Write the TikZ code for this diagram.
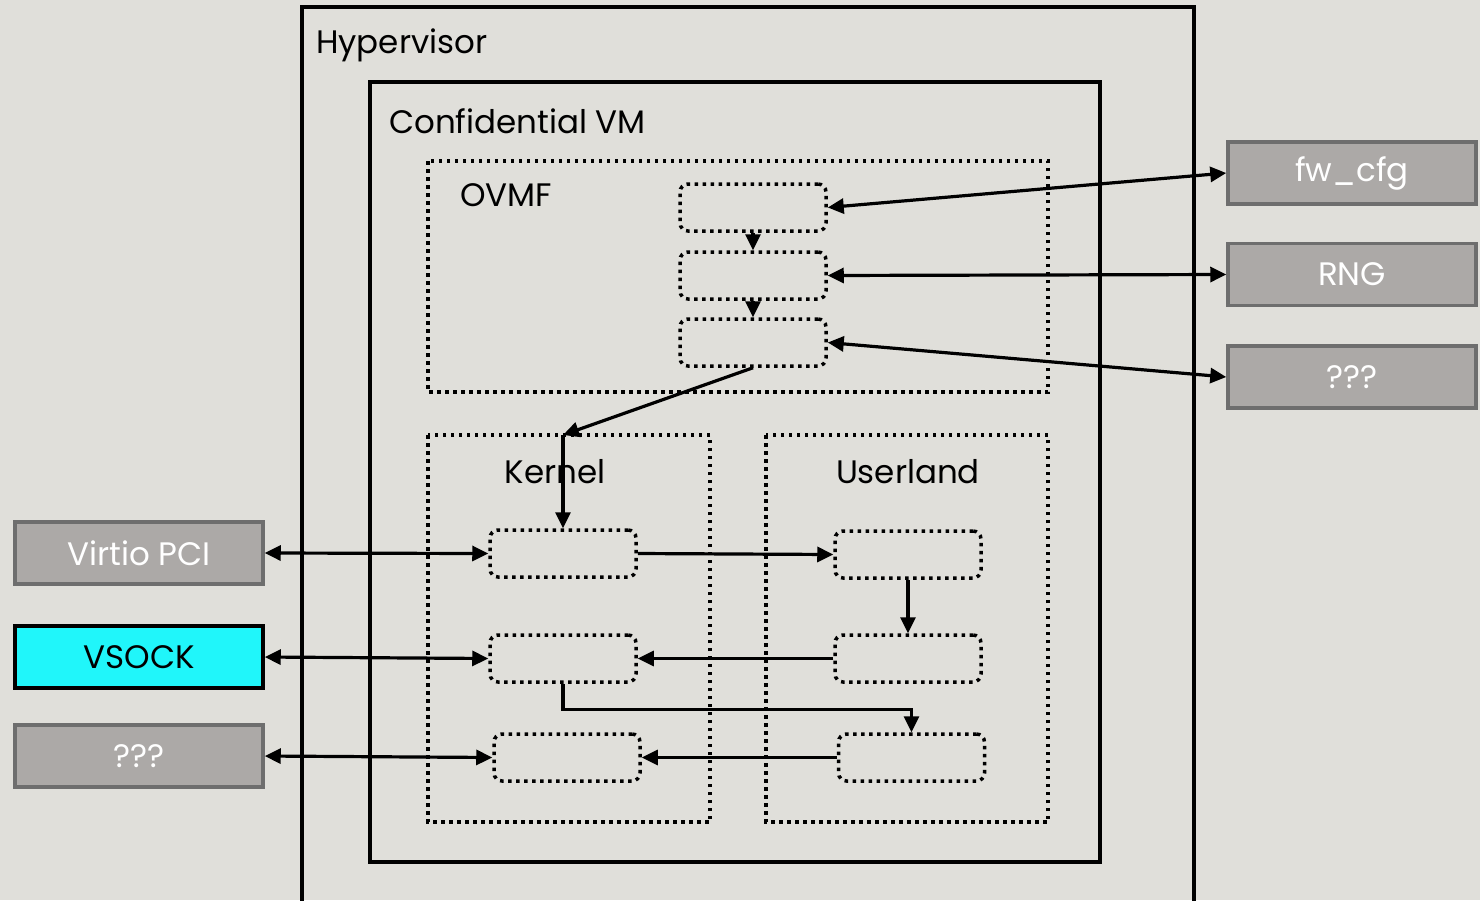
\documentclass[tikz,border=0pt]{standalone}
\usepackage{fontspec}
\setmainfont{Poppins}
\usetikzlibrary{arrows.meta}
\definecolor{paper}{HTML}{E0DFDA}
\definecolor{devfill}{HTML}{ACA9A7}
\definecolor{devedge}{HTML}{6E6E6E}
\definecolor{vsock}{HTML}{20F6FA}
\tikzset{
  dev/.style={draw=devedge, fill=devfill, line width=3.5pt, text=white,
    minimum width=248pt, minimum height=62pt, inner sep=0pt},
  stage/.style={draw, line width=3.5pt, dash pattern=on 3.5pt off 4.5pt,
    rounded corners=8pt, minimum width=146pt, minimum height=47pt},
  area/.style={draw, line width=3.5pt, dash pattern=on 3.5pt off 4.5pt},
  link/.style={line width=3.2pt, -{Triangle[length=16pt,width=15pt]}},
  both/.style={line width=3.2pt, {Triangle[length=16pt,width=15pt]}-{Triangle[length=16pt,width=15pt]}},
  big/.style={font=\fontsize{32.5}{36}\selectfont},
  tag/.style={inner sep=0pt},
}
\begin{document}
\begin{tikzpicture}[x=1pt, y=-1pt, big]
  \useasboundingbox[fill=paper] (0,0) rectangle (1480,900);
  \clip (0,0) rectangle (1480,900);
  % nested frames
  \draw[line width=3.5pt] (302,7) rectangle (1194,920);
  \node[tag, anchor=base west] (hyp) at (316,53) {Hypervisor};
  \draw[line width=3.5pt] (370,82) rectangle (1100,862);
  \node[tag, anchor=base west] (cvm) at (389,133) {Confidential VM};
  \draw[area] (428,161) rectangle (1048,392);
  \node[tag, anchor=base west] (ovmf) at (460,206) {OVMF};
  \draw[area] (428,435) rectangle (710,822);
  \node[tag, anchor=base] (kern) at (555,483) {Kernel};
  \draw[area] (766,435) rectangle (1048,822);
  \node[tag, anchor=base] (user) at (908,483) {Userland};

  % firmware stages
  \node[stage] (o1) at (753,207.5) {};
  \node[stage] (o2) at (753,275.5) {};
  \node[stage] (o3) at (753,342.5) {};
  \draw[link] (o1) -- (o2);
  \draw[link] (o2) -- (o3);

  % kernel and userland stages
  \node[stage] (k1) at (563,553.5) {};
  \node[stage] (k2) at (563,658.5) {};
  \node[stage] (k3) at (567,757.5) {};
  \node[stage] (u1) at (908,554.5) {};
  \node[stage] (u2) at (908,658.5) {};
  \node[stage] (u3) at (911.5,757.5) {};

  % host devices
  \node[dev] (fw) at (1352,173) {fw\_cfg};
  \node[dev] (rng) at (1352,274.5) {RNG};
  \node[dev] (qr) at (1352,377) {???};
  \node[dev] (pci) at (139,553) {Virtio PCI};
  \node[dev, draw=black, fill=vsock, text=black] (vs) at (139,657) {VSOCK};
  \node[dev] (ql) at (139,756) {???};

  \draw[both] (o1.east) -- (fw.west);
  \draw[both] (o2.east) -- (rng.west);
  \draw[both] (o3.east) -- (qr.west);
  \draw[both] (pci.east) -- (k1.west);
  \draw[both] (vs.east) -- (k2.west);
  \draw[both] (ql.east) -- (k3.west);

  \coordinate (entry) at (563,435);
  \draw[link] (o3.south) -- (entry);
  \draw[link] (entry) -- (k1.north);
  \draw[link] (k1.east) -- (u1.west);
  \draw[link] (u1) -- (u2);
  \draw[link] (u2.west) -- (k2.east);
  \draw[link] (k2.south) -- ++(0,26) -| (u3.north);
  \draw[link] (u3.west) -- (k3.east);
\end{tikzpicture}
\end{document}
